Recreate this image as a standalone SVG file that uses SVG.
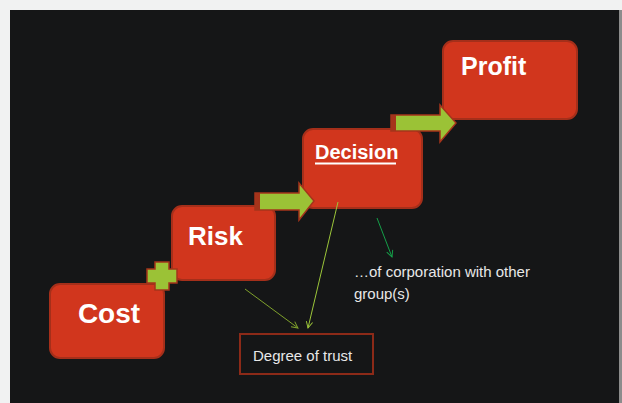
<svg xmlns="http://www.w3.org/2000/svg" width="622" height="403" viewBox="0 0 622 403">
<style>
.box{fill:#d1361d;stroke:#a52f1a;stroke-width:2}
.lbl{font-family:"Liberation Sans",Arial,sans-serif;font-weight:bold;fill:#ffffff}
.arr{fill:#9bc236;stroke:#a5341b;stroke-width:1.5}
.cap{fill:#a5341b}
.note{font-family:"Liberation Sans",Arial,sans-serif;font-size:15px;fill:#e8e8e8}
</style>
<defs>
<marker id="hY" viewBox="0 0 10 10" refX="9" refY="5" markerWidth="8" markerHeight="8" orient="auto" markerUnits="userSpaceOnUse"><path d="M1,1 L9,5 L1,9" fill="none" stroke="#9cc63a" stroke-width="1.2"/></marker>
<marker id="hO" viewBox="0 0 10 10" refX="9" refY="5" markerWidth="8" markerHeight="8" orient="auto" markerUnits="userSpaceOnUse"><path d="M1,1 L9,5 L1,9" fill="none" stroke="#7fa12c" stroke-width="1.2"/></marker>
<marker id="hG" viewBox="0 0 10 10" refX="9" refY="5" markerWidth="8" markerHeight="8" orient="auto" markerUnits="userSpaceOnUse"><path d="M1,1 L9,5 L1,9" fill="none" stroke="#15a04a" stroke-width="1.2"/></marker>
</defs>
<rect x="0" y="0" width="622" height="403" fill="#f1f2f2"/>
<rect x="619" y="10" width="3" height="393" fill="#8c8c8c"/>
<rect x="10" y="10" width="609" height="393" fill="#151617"/>

<g id="cost">
<rect class="box" x="50" y="284" width="114" height="74" rx="10"/>
<text class="lbl" x="109" y="323" font-size="28" text-anchor="middle">Cost</text>
</g>
<g id="risk">
<rect class="box" x="172" y="206" width="103" height="74" rx="10"/>
<text class="lbl" x="188" y="245" font-size="26">Risk</text>
</g>
<g id="decision">
<rect class="box" x="303" y="129" width="119" height="79" rx="10"/>
<text class="lbl" x="315" y="159" font-size="20">Decision</text>
<line x1="315" y1="163.5" x2="396" y2="163.5" stroke="#ffffff" stroke-width="1.8"/>
</g>
<g id="profit">
<rect class="box" x="443" y="41" width="134" height="78" rx="10"/>
<text class="lbl" x="461" y="75" font-size="25">Profit</text>
</g>
<g id="trust">
<rect x="240" y="334" width="133" height="40" fill="none" stroke="#8c2a18" stroke-width="2"/>
<text class="note" x="253" y="361">Degree of trust</text>
</g>
<g id="corporation">
<text class="note" x="354" y="277">…of corporation with other</text>
<text class="note" x="354" y="299">group(s)</text>
</g>

<g id="connectors">
<path class="arr" d="M147,269 L155,269 L155,262 L169,262 L169,269 L177,269 L177,283 L169,283 L169,290 L155,290 L155,283 L147,283 Z"/>
<path class="arr" d="M255,193 L299,193 L299,183 L314,201 L299,220 L299,210 L255,210 Z"/>
<rect class="cap" x="255" y="193" width="5" height="17"/>
<path class="arr" d="M391,115 L440,115 L440,105 L456,123 L440,142 L440,131 L391,131 Z"/>
<rect class="cap" x="391" y="115" width="5" height="16"/>
<line x1="245" y1="289" x2="298" y2="328" stroke="#7fa12c" stroke-width="1" marker-end="url(#hO)"/>
<line x1="338" y1="202" x2="308" y2="328" stroke="#9cc63a" stroke-width="1" marker-end="url(#hY)"/>
<line x1="377" y1="218" x2="392" y2="257" stroke="#15a04a" stroke-width="1" marker-end="url(#hG)"/>
</g>
</svg>
